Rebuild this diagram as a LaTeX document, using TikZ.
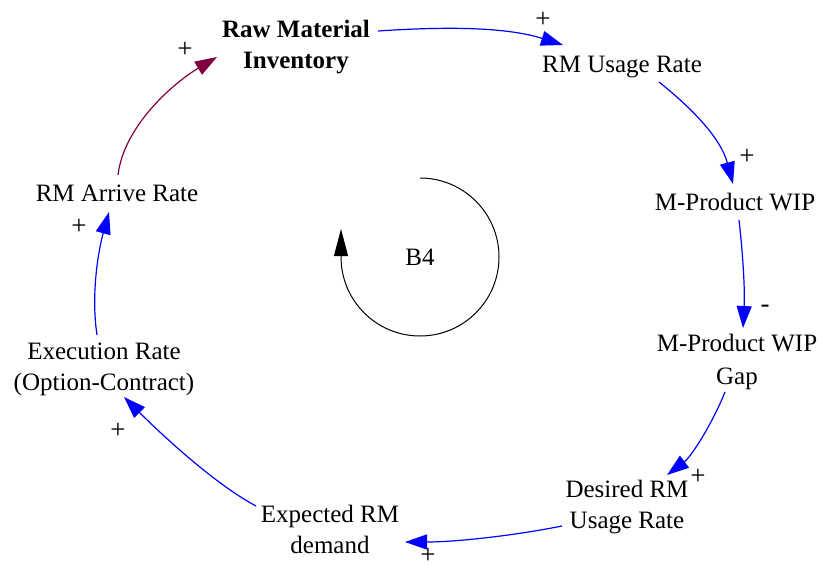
\documentclass[tikz,border=0pt]{standalone}
\usepackage{fontspec}
\setmainfont{Liberation Serif}
\usetikzlibrary{arrows.meta}
\definecolor{linkblue}{RGB}{0,0,255}
\definecolor{linkred}{RGB}{128,0,64}
\tikzset{
  var/.style={inner sep=0pt, align=center, font=\fontsize{25}{31}\selectfont},
  pol/.style={inner sep=0pt, font=\fontsize{27}{31}\selectfont},
  link/.style={draw=linkblue, line width=1.2pt, -{Triangle[length=22pt,width=15pt]}, fill=none},
  redlink/.style={link, draw=linkred},
  loopline/.style={draw=black, line width=1pt, -{Triangle[length=27pt,width=14pt]}}
}
\begin{document}
\begin{tikzpicture}[x=1pt,y=1pt]
\useasboundingbox (0,0) rectangle (823,-570);

% variables
\node[var, font=\fontsize{25}{31}\selectfont\bfseries] (rmi) at (296,-47) {Raw Material\\Inventory};
\node[var] (rmur) at (622,-67) {RM Usage Rate};
\node[var] (mpw)  at (735,-202) {M-Product WIP};
\node[var, font=\fontsize{25}{33}\selectfont] (gap) at (737,-362) {M-Product WIP\\Gap};
\node[var] (drur) at (627,-507) {Desired RM\\Usage Rate};
\node[var] (erd)  at (330,-529) {Expected RM\\demand};
\node[var] (exr)  at (104,-369) {Execution Rate\\(Option-Contract)};
\node[var] (rar)  at (117,-193) {RM Arrive Rate};
\node[var] (b4)   at (420,-257) {B4};

% causal links
\draw[link] ([shift={(82,16)}]rmi.center) .. controls +(60,4) and +(-60,19) .. ([shift={(-59,22)}]rmur.center);
\draw[link] ([shift={(37,-15)}]rmur.center) .. controls +(35,-28) and +(-12,45) .. ([shift={(-2,18)}]mpw.center);
\draw[link] ([shift={(4,-18)}]mpw.center) .. controls +(4,-35) and +(2,38) .. ([shift={(6,34)}]gap.center);
\draw[link] ([shift={(-12,-30)}]gap.center) .. controls +(-12,-30) and +(25,19) .. ([shift={(40,32)}]drur.center);
\draw[link] ([shift={(-65,-19)}]drur.center) .. controls +(-50,-10) and +(50,0) .. ([shift={(75,-13)}]erd.center);
\draw[link] ([shift={(-74,23)}]erd.center) .. controls +(-45,24) and +(30,-30) .. ([shift={(20,-28)}]exr.center);
\draw[link] ([shift={(-7,34)}]exr.center) .. controls +(-6,40) and +(-11,-40) .. ([shift={(-8,-19)}]rar.center);
\draw[redlink] ([shift={(1,18)}]rar.center) .. controls +(6,50) and +(-42,-25) .. ([shift={(-79,-10)}]rmi.center);

% polarities
\node[pol] (p1) at (543,-20) {+};
\node[pol] (p2) at (747,-157) {+};
\node[pol] (p3) at (765,-309) {-};
\node[pol] (p4) at (698,-477) {+};
\node[pol] (p5) at (428,-556) {+};
\node[pol] (p6) at (118,-431) {+};
\node[pol] (p7) at (79,-227) {+};
\node[pol] (p8) at (185,-50) {+};

% loop marker
\draw[loopline] ([yshift=79pt]b4.center) arc[start angle=90, end angle=-180, radius=79pt] -- ++(0,28);
\end{tikzpicture}
\end{document}
